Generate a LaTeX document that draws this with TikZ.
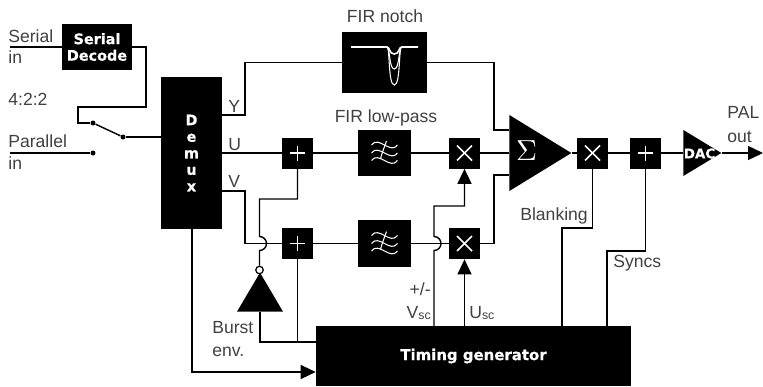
\documentclass[tikz,border=0pt]{standalone}
\usepackage{fontspec}
\setmainfont{Liberation Sans}
\newfontfamily\blackfont[FakeBold=0.6]{DejaVu Sans Bold}
\usetikzlibrary{arrows.meta,shapes.geometric}
\definecolor{labelgrey}{gray}{0.25}
\tikzset{
	blockbox/.style={fill=black,draw=none,inner sep=0pt},
	mixbox/.style={blockbox,minimum size=0.62cm},
	lbl/.style={anchor=base west,inner sep=0pt,text=labelgrey,font=\fontsize{10}{12}\selectfont},
	lblr/.style={lbl,anchor=base east},
	lblc/.style={lbl,anchor=base},
	boldtxt/.style={text=white,align=center,font=\blackfont\fontsize{8.2}{9.4}\selectfont},
	dotnode/.style={circle,fill=black,inner sep=0pt,minimum size=0.1cm},
	arrowtip/.style={-{Triangle[length=0.3cm,width=0.28cm]}},
	wire/.style={line width=0.8pt},
	whiteline/.style={draw=white,line width=0.9pt},
	lowpass/.pic={
		\draw[white,line width=0.6pt] (-13,-8) .. controls (-6,-18) and (6,2) .. (13,-8);
		\draw[white,line width=0.6pt] (-13,0) .. controls (-6,-10) and (6,10) .. (13,0);
		\draw[white,line width=0.6pt] (-13,7.5) .. controls (-6,-2.5) and (6,17.5) .. (13,7.5);
		\draw[white,line width=0.6pt] (2,-12) .. controls (0,-6) and (-2,-2) .. (-4,6);
	},
	plusbox/.style={mixbox,path picture={
		\draw[whiteline] ([xshift=-0.15cm]path picture bounding box.center) -- ([xshift=0.15cm]path picture bounding box.center);
		\draw[whiteline] ([yshift=-0.15cm]path picture bounding box.center) -- ([yshift=0.15cm]path picture bounding box.center);
	}},
	timesbox/.style={mixbox,path picture={
		\draw[whiteline] ([shift={(-0.15cm,-0.15cm)}]path picture bounding box.center) -- ([shift={(0.15cm,0.15cm)}]path picture bounding box.center);
		\draw[whiteline] ([shift={(-0.15cm,0.15cm)}]path picture bounding box.center) -- ([shift={(0.15cm,-0.15cm)}]path picture bounding box.center);
	}},
	triblock/.style={isosceles triangle,isosceles triangle stretches,fill=black,inner sep=0pt,anchor=lower side},
}

\begin{document}
\begin{tikzpicture}[x=0.02cm,y=-0.02cm]
	\useasboundingbox (0,0) rectangle (763,386);

	\node[blockbox,minimum width=1.4cm,minimum height=0.92cm,boldtxt] (decode) at (97,47) {Serial\\Decode};
	\node[blockbox,minimum width=1.22cm,minimum height=3.04cm,boldtxt] (demux) at (191.5,153) {D\\e\\m\\u\\x};
	\node[blockbox,minimum width=1.7cm,minimum height=1.22cm] (notch) at (384.5,62.5) {};
	\node[blockbox,minimum width=1.06cm,minimum height=0.92cm] (lowpassa) at (384.5,153) {};
	\node[blockbox,minimum width=1.06cm,minimum height=0.94cm] (lowpassb) at (384.5,243.5) {};
	\node[plusbox] (plusu) at (297.5,153) {};
	\node[plusbox] (plusv) at (297.5,243.5) {};
	\node[timesbox] (mixu) at (464.5,153) {};
	\node[timesbox] (mixv) at (464.5,243.5) {};
	\node[timesbox] (blank) at (592.5,153) {};
	\node[plusbox] (sync) at (645.5,153) {};
	\node[blockbox,minimum width=6.3cm,minimum height=1.2cm,text=white,font=\blackfont\fontsize{8.5}{9.4}\selectfont] (timing) at (473.5,356) {Timing generator};
	\node[triblock,minimum height=1.24cm,minimum width=1.52cm] (sum) at (509,153) {};
	\node[triblock,minimum height=0.76cm,minimum width=0.92cm] (dac) at (683,153) {};
	\node[triblock,shape border rotate=90,minimum height=0.78cm,minimum width=0.92cm] (burst) at (260,312) {};
	\node[circle,draw=black,fill=white,line width=0.7pt,inner sep=0pt,minimum size=0.15cm] (bubble) at (259.5,270) {};

	\node[text=white,inner sep=0pt] (sigma) at (526.5,151) {\scalebox{1.65}{$\Sigma$}};

	\node[dotnode] (swa) at (93,123) {};
	\node[dotnode] (swb) at (123,137) {};
	\node[dotnode] (swc) at (93,153) {};
	\coordinate (serin) at (10,47);
	\coordinate (parin) at (10,153);
	\coordinate (palout) at (763,153);
	\coordinate (suma) at (509,130);
	\coordinate (sumb) at (509,175);

	\draw[wire] (serin) -- (decode.west);
	\draw[wire] (decode.east) -- (146,47) -- (146,107) -- (78,107) -- (78,123) -- (swa);
	\draw[wire] (swa) -- (swb);
	\draw[wire] (swb) -- (swb -| demux.west);
	\draw[wire] (parin) -- (swc);

	\draw[wire] (222,115) -- (245,115) -- (245,62.5) -- (notch.west);
	\draw[wire] (notch.east) -- (494,62.5) -- (494,130) -- (suma);
	\draw[wire] (demux.east) -- (plusu.west);
	\draw[wire] (plusu.east) -- (lowpassa.west);
	\draw[wire] (lowpassa.east) -- (mixu.west);
	\draw[wire] (mixu.east) -- (sum.lower side);
	\draw[wire] (222,191) -- (245,191) -- (245,243.5) -- (plusv.west);
	\draw[wire] (plusv.east) -- (lowpassb.west);
	\draw[wire] (lowpassb.east) -- (mixv.west);
	\draw[wire] (mixv.east) -- (494,243.5) -- (494,175) -- (sumb);
	\draw[wire] (sum.apex) -- (blank.west);
	\draw[wire] (blank.east) -- (sync.west);
	\draw[wire] (sync.east) -- (dac.lower side);
	\draw[wire,arrowtip] (dac.apex) -- (palout);
	\node[text=white,inner sep=0pt,font=\blackfont\fontsize{7.6}{8}\selectfont] (dactxt) at (699.5,153.5) {DAC};

	\draw[wire] (plusu.south) -- (297.5,199) -- (259.5,199) -- (259.5,236.5) arc[start angle=90,end angle=-90,radius=0.14cm] -- (bubble.north);
	\draw[wire] (burst.lower side) -- (260,342) -- (timing.west |- 0,342);
	\draw[wire] (plusv.south) -- (plusv.south |- 0,342);
	\draw[wire,arrowtip] (192,229) -- (192,372) -- (timing.west |- 0,372);
	\draw[wire,arrowtip] (434,326) -- (434,250.5) arc[start angle=-90,end angle=90,radius=0.14cm] -- (434,206) -- (464.5,206) -- (mixu.south);
	\draw[wire,arrowtip] (mixv.south |- timing.north) -- (mixv.south);
	\draw[wire] (blank.south) -- (592.5,228) -- (562,228) -- (562,326);
	\draw[wire] (sync.south) -- (645.5,251) -- (607,251) -- (607,326);

	\pic at (lowpassa) {lowpass};
	\pic at (lowpassb) {lowpass};
	\draw[white,line width=0.6pt] (387,47) .. controls (390,47) and (388,85) .. (394.3,85) .. controls (400.6,85) and (398.6,47) .. (401.7,47);
	\draw[white,line width=0.6pt] (387,47) .. controls (390,47) and (389,69) .. (394.3,69) .. controls (399.6,69) and (398.6,47) .. (401.7,47);
	\draw[white,line width=0.9pt] (351,47) -- (387,47) .. controls (390,47) and (389,54) .. (394.3,54) .. controls (399.6,54) and (398.6,47) .. (401.7,47) -- (418,47);

	\node[lbl] (serial) at (8,42) {Serial};
	\node[lbl] (serialb) at (8,63) {in};
	\node[lbl] (fmt) at (8,105) {4:2:2};
	\node[lbl] (parallel) at (8,147) {Parallel};
	\node[lbl] (parallelb) at (8,169) {in};
	\node[lbl] (ylbl) at (228,112) {Y};
	\node[lbl] (ulbl) at (228,150) {U};
	\node[lbl] (vlbl) at (228,187) {V};
	\node[lblc] (notchlbl) at (385,22) {FIR notch};
	\node[lblc] (lowpasslbl) at (386,122) {FIR low-pass};
	\node[lbl] (pal) at (727,118) {PAL};
	\node[lbl] (palb) at (727,142) {out};
	\node[lbl] (blanklbl) at (520,220) {Blanking};
	\node[lbl] (synclbl) at (613,267) {Syncs};
	\node[lbl] (burstlbl) at (212,333) {Burst};
	\node[lbl] (burstb) at (212,356) {env.};
	\node[lblr] (pm) at (431,295) {+/-};
	\node[lblr] (vsc) at (431,318) {V\raisebox{-0.2ex}{\fontsize{7}{8}\selectfont sc}};
	\node[lbl] (usc) at (469,318) {U\raisebox{-0.2ex}{\fontsize{7}{8}\selectfont sc}};
\end{tikzpicture}
\end{document}
